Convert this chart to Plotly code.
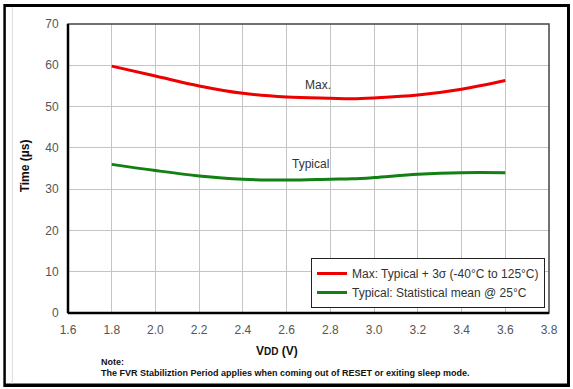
import plotly.graph_objects as go

vdd = [1.8, 2.0, 2.2, 2.4, 2.6, 2.8, 2.9, 3.0, 3.2, 3.4, 3.6]
max_time = [59.8, 57.4, 55.0, 53.2, 52.3, 52.0, 51.9, 52.1, 52.8, 54.2, 56.3]
typ_time = [36.0, 34.5, 33.2, 32.4, 32.2, 32.4, 32.5, 32.8, 33.6, 34.0, 34.0]

x_ticks = [1.6, 1.8, 2.0, 2.2, 2.4, 2.6, 2.8, 3.0, 3.2, 3.4, 3.6, 3.8]
y_ticks = [0, 10, 20, 30, 40, 50, 60, 70]

W, H = 573, 389
L, R, T, B = 67.7, 549.0, 24.0, 313.0
pw, ph = R - L, B - T

def px(x):
    return (x - L) / pw

def py(y):
    return (B - y) / ph

FONT = "Arial, Liberation Sans, sans-serif"

fig = go.Figure()
fig.add_trace(go.Scatter(x=vdd, y=max_time, mode="lines", line=dict(color="#ee0000", width=3, shape="spline"),
                         name="Max: Typical + 3σ (-40°C to 125°C)"))
fig.add_trace(go.Scatter(x=vdd, y=typ_time, mode="lines", line=dict(color="#128012", width=3, shape="spline"),
                         name="Typical: Statistical mean @ 25°C"))

axis_common = dict(showgrid=True, gridcolor="#c4c4c4", gridwidth=1, zeroline=False,
                   ticks="outside", ticklen=6, tickcolor="rgba(0,0,0,0)",
                   tickfont=dict(family=FONT, size=12, color="#555555"), showline=False)

fig.update_xaxes(range=[1.6, 3.8], tickvals=x_ticks, ticktext=[f"{v:.1f}" for v in x_ticks], **axis_common)
fig.update_yaxes(range=[0, 70], tickvals=y_ticks, **axis_common)

def prect(x0, y0, x1, y1, fill, layer="below"):
    return dict(type="rect", xref="paper", yref="paper", x0=px(x0), x1=px(x1), y0=py(y1), y1=py(y0),
                fillcolor=fill, line=dict(width=0), layer=layer)

shapes = [
    # outer frame as filled black rect with white interior
    prect(3, 4, 570, 387, "#000000"),
    prect(5.5, 7, 567, 383.5, "#ffffff"),
    prect(11.5, 7, 12.5, 383.5, "#dddddd"),
    prect(L, T, R, B, "#ffffff"),
    # plot frame
    dict(type="rect", xref="paper", yref="paper", x0=0, x1=1, y0=0, y1=1,
         line=dict(color="#444444", width=1.5), layer="above"),
    dict(type="line", xref="paper", yref="paper", x0=0, x1=0, y0=0, y1=1,
         line=dict(color="#000000", width=2.5), layer="above"),
    dict(type="line", xref="paper", yref="paper", x0=0, x1=1, y0=0, y1=0,
         line=dict(color="#000000", width=2.5), layer="above"),
]

def ann(text, x, y, size=12, color="#111111", bold=False, xanchor="center", angle=0, ref="paper"):
    f = dict(family=FONT, size=size, color=color)
    if bold:
        f["weight"] = "bold"
    return dict(text=text, x=x, y=y, xref=ref if ref == "paper" else "x", yref=ref if ref == "paper" else "y",
                showarrow=False, xanchor=xanchor, yanchor="middle", textangle=angle, font=f)

annotations = [
    ann("Max.", 2.745, 55.2, color="#333333", ref="data"),
    ann("Typical", 2.71, 36.0, color="#333333", ref="data"),
    ann("V<span style='font-size:10px'>DD</span> (V)", px(277), py(351), bold=True),
    ann("Time (µs)", px(25), py(166), bold=True, angle=-90),
    ann("Note:", px(99), py(362), size=9, bold=True, xanchor="left"),
    ann("The FVR Stabiliztion Period applies when coming out of RESET or exiting sleep mode.",
        px(99), py(373), size=9, bold=True, xanchor="left"),
]

fig.update_layout(
    width=W, height=H,
    margin=dict(l=L, r=W - R, t=T, b=H - B, pad=0),
    paper_bgcolor="white", plot_bgcolor="white",
    shapes=shapes, annotations=annotations,
    showlegend=True,
    legend=dict(x=px(545), y=py(308), xanchor="right", yanchor="bottom",
                bgcolor="white", bordercolor="#222222", borderwidth=1,
                font=dict(family=FONT, size=12, color="#333333"),
                itemwidth=30, tracegroupgap=0),
)

fig.write_html("out.html", config={"displayModeBar": False},
               post_script="document.body.style.margin='0';document.body.style.overflow='hidden';")
